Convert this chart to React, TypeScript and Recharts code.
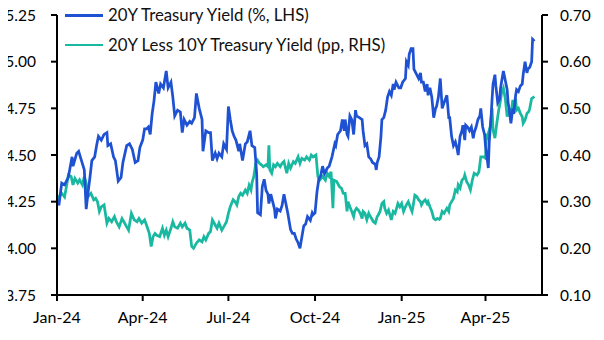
import React from 'react';
import { LineChart, Line, XAxis, YAxis } from 'recharts';

const FONT = 'Lato, "Noto Sans", sans-serif';

// x values are day offsets from 1 Jan 2024
const xTickDays = [0, 91, 182, 274, 366, 455];
const xTickLabels = ['Jan-24', 'Apr-24', 'Jul-24', 'Oct-24', 'Jan-25', 'Apr-25'];
const leftTicks = [3.75, 4.0, 4.25, 4.5, 4.75, 5.0, 5.25];
const rightTicks = [0.1, 0.2, 0.3, 0.4, 0.5, 0.6, 0.7];
const seriesNames = ['20Y Treasury Yield (%, LHS)', '20Y Less 10Y Treasury Yield (pp, RHS)'];

const yieldDays = [1, 2, 5, 8, 12, 16, 17, 21, 23, 26, 29, 31, 33, 35, 37, 40, 42, 44, 47, 50, 53, 54, 57, 60, 62, 65, 68, 70, 74, 77, 80, 83, 86, 88, 91, 93, 95, 97, 99, 101, 103, 105, 108, 110, 113, 116, 118, 121, 123, 125, 128, 131, 133, 135, 138, 141, 143, 146, 148, 151, 154, 155, 158, 161, 163, 165, 168, 170, 172, 175, 177, 180, 182, 184, 186, 188, 190, 193, 194, 197, 200, 202, 205, 207, 210, 212, 213, 216, 218, 220, 222, 224, 225, 227, 229, 231, 232, 234, 237, 239, 241, 243, 245, 248, 250, 252, 254, 256, 258, 260, 262, 264, 266, 269, 271, 272, 274, 276, 278, 280, 282, 284, 287, 289, 292, 295, 296, 298, 301, 303, 305, 306, 308, 309, 311, 313, 315, 317, 318, 321, 324, 325, 327, 329, 331, 333, 335, 338, 339, 340, 342, 344, 345, 347, 349, 351, 353, 355, 357, 358, 360, 363, 365, 367, 370, 371, 373, 374, 376, 378, 379, 381, 384, 386, 387, 389, 391, 393, 394, 396, 398, 400, 402, 403, 405, 407, 409, 411, 414, 416, 417, 419, 421, 423, 425, 426, 428, 430, 431, 433, 434, 436, 438, 440, 442, 443, 445, 447, 449, 450, 452, 454, 455, 456, 457, 458, 459, 461, 462, 463, 465, 466, 468, 470, 471, 472, 474, 476, 478, 479, 480, 481, 482, 484, 485, 487, 488, 490, 492, 494, 495, 497, 499, 500, 502, 504, 505, 507];
const yieldValues = [4.26, 4.23, 4.35, 4.34, 4.38, 4.49, 4.44, 4.51, 4.52, 4.47, 4.42, 4.21, 4.30, 4.38, 4.47, 4.49, 4.55, 4.60, 4.58, 4.61, 4.62, 4.55, 4.56, 4.49, 4.47, 4.36, 4.38, 4.46, 4.55, 4.56, 4.53, 4.46, 4.47, 4.54, 4.58, 4.64, 4.64, 4.65, 4.61, 4.72, 4.79, 4.89, 4.83, 4.88, 4.86, 4.95, 4.86, 4.89, 4.81, 4.71, 4.74, 4.73, 4.62, 4.69, 4.66, 4.68, 4.67, 4.70, 4.83, 4.75, 4.69, 4.52, 4.63, 4.62, 4.62, 4.47, 4.51, 4.48, 4.51, 4.49, 4.56, 4.53, 4.76, 4.69, 4.63, 4.60, 4.58, 4.52, 4.56, 4.47, 4.56, 4.57, 4.63, 4.55, 4.54, 4.40, 4.19, 4.18, 4.33, 4.37, 4.31, 4.29, 4.24, 4.29, 4.25, 4.21, 4.16, 4.21, 4.20, 4.23, 4.29, 4.24, 4.19, 4.10, 4.08, 4.08, 4.05, 4.03, 4.00, 4.06, 4.12, 4.13, 4.17, 4.15, 4.19, 4.18, 4.19, 4.30, 4.37, 4.39, 4.44, 4.40, 4.43, 4.44, 4.49, 4.56, 4.55, 4.61, 4.63, 4.69, 4.63, 4.69, 4.61, 4.60, 4.71, 4.69, 4.61, 4.74, 4.71, 4.70, 4.69, 4.63, 4.55, 4.56, 4.49, 4.48, 4.46, 4.45, 4.42, 4.46, 4.49, 4.60, 4.69, 4.70, 4.74, 4.81, 4.84, 4.82, 4.88, 4.85, 4.89, 4.86, 4.86, 4.89, 4.91, 5.00, 4.98, 5.04, 5.07, 5.07, 4.96, 4.94, 4.91, 4.94, 4.89, 4.89, 4.84, 4.88, 4.82, 4.86, 4.81, 4.70, 4.75, 4.76, 4.81, 4.91, 4.75, 4.78, 4.82, 4.70, 4.70, 4.60, 4.55, 4.57, 4.53, 4.50, 4.60, 4.63, 4.66, 4.58, 4.66, 4.65, 4.63, 4.65, 4.59, 4.62, 4.65, 4.69, 4.71, 4.75, 4.65, 4.61, 4.55, 4.51, 4.47, 4.43, 4.57, 4.71, 4.80, 4.88, 4.93, 4.87, 4.78, 4.80, 4.86, 4.89, 4.95, 4.90, 4.85, 4.78, 4.75, 4.71, 4.67, 4.75, 4.72, 4.82, 4.85, 4.84, 4.87, 4.88, 4.93, 5.00, 4.94, 4.96, 4.97, 5.00, 5.12, 5.11];

const spreadDays = [1, 2, 5, 8, 10, 12, 15, 17, 19, 22, 24, 27, 29, 31, 33, 36, 39, 41, 43, 45, 47, 50, 53, 55, 58, 61, 63, 66, 69, 71, 74, 76, 79, 82, 85, 87, 90, 93, 95, 98, 100, 102, 104, 106, 109, 112, 114, 116, 118, 121, 123, 125, 128, 131, 133, 136, 138, 141, 143, 145, 148, 151, 154, 156, 158, 161, 163, 165, 168, 170, 172, 175, 177, 180, 182, 184, 187, 189, 191, 193, 195, 197, 200, 202, 204, 206, 207, 209, 211, 213, 215, 217, 219, 222, 224, 225, 226, 228, 230, 232, 234, 237, 239, 241, 244, 246, 248, 251, 253, 256, 258, 260, 263, 265, 268, 270, 272, 275, 277, 279, 282, 285, 287, 289, 291, 293, 294, 297, 300, 302, 304, 306, 308, 309, 311, 313, 315, 316, 318, 320, 322, 324, 325, 327, 329, 331, 332, 334, 336, 338, 340, 341, 343, 345, 347, 348, 350, 352, 354, 355, 357, 359, 361, 362, 364, 366, 368, 370, 371, 373, 375, 377, 378, 380, 382, 384, 386, 387, 389, 391, 393, 394, 396, 398, 400, 402, 404, 406, 407, 409, 411, 414, 416, 417, 419, 421, 423, 425, 426, 428, 430, 432, 433, 435, 437, 439, 441, 443, 446, 448, 449, 450, 453, 455, 456, 457, 458, 460, 462, 463, 465, 467, 469, 471, 472, 474, 476, 478, 479, 481, 482, 484, 485, 487, 488, 490, 492, 494, 495, 497, 499, 501, 502, 504, 507];
const spreadValues = [0.304, 0.31, 0.318, 0.31, 0.332, 0.357, 0.354, 0.336, 0.35, 0.34, 0.347, 0.336, 0.354, 0.34, 0.311, 0.318, 0.304, 0.307, 0.30, 0.279, 0.289, 0.293, 0.254, 0.264, 0.257, 0.268, 0.257, 0.246, 0.264, 0.257, 0.246, 0.239, 0.275, 0.261, 0.257, 0.264, 0.254, 0.261, 0.25, 0.232, 0.204, 0.225, 0.232, 0.228, 0.225, 0.243, 0.228, 0.239, 0.225, 0.243, 0.257, 0.246, 0.243, 0.254, 0.246, 0.254, 0.243, 0.239, 0.204, 0.20, 0.211, 0.218, 0.214, 0.225, 0.218, 0.232, 0.236, 0.261, 0.25, 0.243, 0.254, 0.239, 0.246, 0.257, 0.275, 0.289, 0.304, 0.30, 0.293, 0.311, 0.318, 0.314, 0.325, 0.318, 0.335, 0.325, 0.34, 0.354, 0.382, 0.389, 0.382, 0.379, 0.375, 0.379, 0.375, 0.421, 0.368, 0.361, 0.379, 0.375, 0.382, 0.375, 0.382, 0.386, 0.361, 0.382, 0.372, 0.386, 0.382, 0.396, 0.382, 0.393, 0.389, 0.396, 0.389, 0.40, 0.396, 0.40, 0.354, 0.346, 0.354, 0.346, 0.361, 0.354, 0.364, 0.286, 0.346, 0.343, 0.332, 0.329, 0.318, 0.318, 0.279, 0.30, 0.289, 0.279, 0.268, 0.279, 0.286, 0.282, 0.275, 0.264, 0.279, 0.275, 0.261, 0.275, 0.271, 0.264, 0.257, 0.254, 0.268, 0.271, 0.279, 0.296, 0.30, 0.286, 0.275, 0.282, 0.268, 0.261, 0.279, 0.275, 0.289, 0.296, 0.289, 0.296, 0.279, 0.289, 0.293, 0.30, 0.289, 0.279, 0.289, 0.314, 0.311, 0.304, 0.30, 0.293, 0.30, 0.304, 0.296, 0.30, 0.289, 0.279, 0.264, 0.261, 0.264, 0.262, 0.264, 0.279, 0.275, 0.286, 0.279, 0.293, 0.30, 0.307, 0.325, 0.321, 0.336, 0.329, 0.346, 0.35, 0.357, 0.343, 0.336, 0.325, 0.346, 0.361, 0.357, 0.364, 0.379, 0.396, 0.396, 0.393, 0.446, 0.432, 0.446, 0.461, 0.50, 0.454, 0.436, 0.468, 0.496, 0.518, 0.532, 0.543, 0.521, 0.482, 0.489, 0.50, 0.486, 0.518, 0.496, 0.521, 0.496, 0.50, 0.489, 0.482, 0.468, 0.475, 0.489, 0.493, 0.50, 0.521, 0.525];

type Row = { day: number; yld?: number; spr?: number };

function buildRows(): Row[] {
  const map = new Map<number, Row>();
  yieldDays.forEach((d, i) => {
    const r = map.get(d) || { day: d };
    r.yld = yieldValues[i];
    map.set(d, r);
  });
  spreadDays.forEach((d, i) => {
    const r = map.get(d) || { day: d };
    r.spr = spreadValues[i];
    map.set(d, r);
  });
  return Array.from(map.values()).sort((a, b) => a.day - b.day);
}

const rows = buildRows();

const BLUE = '#1f52d3';
const TEAL = '#19b8a0';
const colors = [BLUE, TEAL];

const tickStyle = { fill: '#000', fontSize: 15.5, fontFamily: FONT };
const axisLine = { stroke: '#000', strokeWidth: 2 };

function LegendBox() {
  return (
    <div style={{ position: 'absolute', left: 65, top: 0, fontFamily: FONT, fontSize: 16.8, color: '#111' }}>
      {seriesNames.map((n, i) => (
        <div key={n} style={{ position: 'absolute', left: 0, top: i * 29.5, height: 30, width: 420, whiteSpace: 'nowrap' }}>
          <div style={{ position: 'absolute', left: 0, top: 14, width: 38, height: 2.75, background: colors[i] }} />
          <div style={{ position: 'absolute', left: 43, top: 0, height: 30, lineHeight: '30px' }}>{n}</div>
        </div>
      ))}
    </div>
  );
}

export default function App() {
  return (
    <div style={{ margin: -8, position: 'relative', width: 604, height: 340 }}>
      <LineChart width={604} height={340} data={rows} margin={{ top: 15, right: 0, bottom: 0, left: 0 }}>
        <XAxis
          dataKey="day"
          type="number"
          domain={[0, 515]}
          ticks={xTickDays}
          interval={0}
          tickFormatter={(v: number) => xTickLabels[xTickDays.indexOf(v)] ?? ''}
          tickSize={6}
          tickMargin={11}
          height={45}
          axisLine={axisLine}
          tickLine={axisLine}
          tick={{ ...tickStyle, fontSize: 16 }}
          allowDataOverflow
        />
        <YAxis
          yAxisId="left"
          orientation="left"
          domain={[3.75, 5.25]}
          ticks={leftTicks}
          interval={0}
          tickFormatter={(v: number) => v.toFixed(2)}
          width={57}
          tickSize={6}
          tickMargin={15}
          axisLine={axisLine}
          tickLine={axisLine}
          tick={tickStyle}
          allowDataOverflow
        />
        <YAxis
          yAxisId="right"
          orientation="right"
          domain={[0.1, 0.7]}
          ticks={rightTicks}
          interval={0}
          tickFormatter={(v: number) => v.toFixed(2)}
          width={62}
          tickSize={6}
          tickMargin={12}
          axisLine={axisLine}
          tickLine={axisLine}
          tick={tickStyle}
          allowDataOverflow
        />
        <Line
          yAxisId="right"
          dataKey="spr"
          name={seriesNames[1]}
          stroke={TEAL}
          strokeWidth={2.75}
          dot={false}
          connectNulls
          isAnimationActive={false}
          type="linear"
        />
        <Line
          yAxisId="left"
          dataKey="yld"
          name={seriesNames[0]}
          stroke={BLUE}
          strokeWidth={2.75}
          dot={false}
          connectNulls
          isAnimationActive={false}
          type="linear"
        />
      </LineChart>
      <LegendBox />
    </div>
  );
}
